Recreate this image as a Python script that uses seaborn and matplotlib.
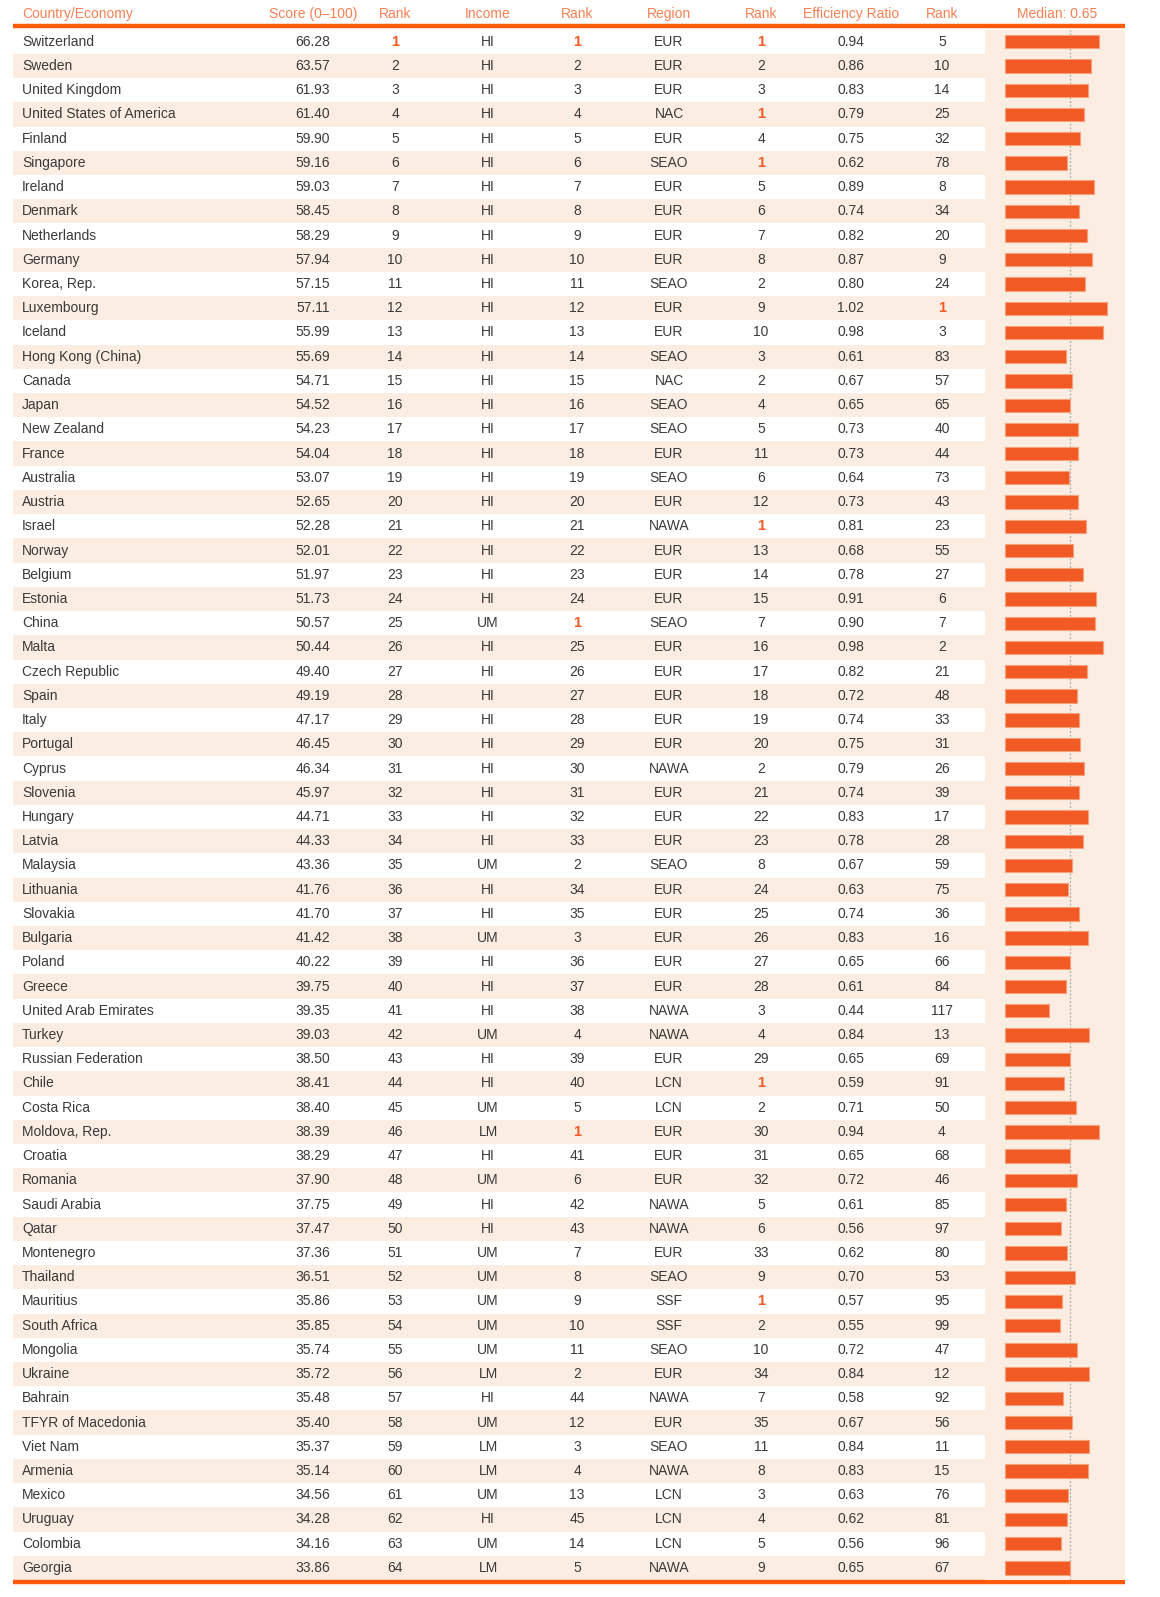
import matplotlib.pyplot as plt
import seaborn as sns
import pandas as pd
from matplotlib import font_manager

countries = [
    "Switzerland", "Sweden", "United Kingdom", "United States of America", "Finland",
    "Singapore", "Ireland", "Denmark", "Netherlands", "Germany", "Korea, Rep.",
    "Luxembourg", "Iceland", "Hong Kong (China)", "Canada", "Japan", "New Zealand",
    "France", "Australia", "Austria", "Israel", "Norway", "Belgium", "Estonia",
    "China", "Malta", "Czech Republic", "Spain", "Italy", "Portugal", "Cyprus",
    "Slovenia", "Hungary", "Latvia", "Malaysia", "Lithuania", "Slovakia", "Bulgaria",
    "Poland", "Greece", "United Arab Emirates", "Turkey", "Russian Federation",
    "Chile", "Costa Rica", "Moldova, Rep.", "Croatia", "Romania", "Saudi Arabia",
    "Qatar", "Montenegro", "Thailand", "Mauritius", "South Africa", "Mongolia",
    "Ukraine", "Bahrain", "TFYR of Macedonia", "Viet Nam", "Armenia", "Mexico",
    "Uruguay", "Colombia", "Georgia",
]
scores = [
    "66.28", "63.57", "61.93", "61.40", "59.90", "59.16", "59.03", "58.45", "58.29",
    "57.94", "57.15", "57.11", "55.99", "55.69", "54.71", "54.52", "54.23", "54.04",
    "53.07", "52.65", "52.28", "52.01", "51.97", "51.73", "50.57", "50.44", "49.40",
    "49.19", "47.17", "46.45", "46.34", "45.97", "44.71", "44.33", "43.36", "41.76",
    "41.70", "41.42", "40.22", "39.75", "39.35", "39.03", "38.50", "38.41", "38.40",
    "38.39", "38.29", "37.90", "37.75", "37.47", "37.36", "36.51", "35.86", "35.85",
    "35.74", "35.72", "35.48", "35.40", "35.37", "35.14", "34.56", "34.28", "34.16",
    "33.86",
]
score_rank = list(range(1, 65))
income = [
    "HI", "HI", "HI", "HI", "HI", "HI", "HI", "HI", "HI", "HI", "HI", "HI", "HI",
    "HI", "HI", "HI", "HI", "HI", "HI", "HI", "HI", "HI", "HI", "HI", "UM", "HI",
    "HI", "HI", "HI", "HI", "HI", "HI", "HI", "HI", "UM", "HI", "HI", "UM", "HI",
    "HI", "HI", "UM", "HI", "HI", "UM", "LM", "HI", "UM", "HI", "HI", "UM", "UM",
    "UM", "UM", "UM", "LM", "HI", "UM", "LM", "LM", "UM", "HI", "UM", "LM",
]
income_rank = [
    1, 2, 3, 4, 5, 6, 7, 8, 9, 10, 11, 12, 13, 14, 15, 16, 17, 18, 19, 20, 21, 22,
    23, 24, 1, 25, 26, 27, 28, 29, 30, 31, 32, 33, 2, 34, 35, 3, 36, 37, 38, 4, 39,
    40, 5, 1, 41, 6, 42, 43, 7, 8, 9, 10, 11, 2, 44, 12, 3, 4, 13, 45, 14, 5,
]
region = [
    "EUR", "EUR", "EUR", "NAC", "EUR", "SEAO", "EUR", "EUR", "EUR", "EUR", "SEAO",
    "EUR", "EUR", "SEAO", "NAC", "SEAO", "SEAO", "EUR", "SEAO", "EUR", "NAWA", "EUR",
    "EUR", "EUR", "SEAO", "EUR", "EUR", "EUR", "EUR", "EUR", "NAWA", "EUR", "EUR",
    "EUR", "SEAO", "EUR", "EUR", "EUR", "EUR", "EUR", "NAWA", "NAWA", "EUR", "LCN",
    "LCN", "EUR", "EUR", "EUR", "NAWA", "NAWA", "EUR", "SEAO", "SSF", "SSF", "SEAO",
    "EUR", "NAWA", "EUR", "SEAO", "NAWA", "LCN", "LCN", "LCN", "NAWA",
]
region_rank = [
    1, 2, 3, 1, 4, 1, 5, 6, 7, 8, 2, 9, 10, 3, 2, 4, 5, 11, 6, 12, 1, 13, 14, 15,
    7, 16, 17, 18, 19, 20, 2, 21, 22, 23, 8, 24, 25, 26, 27, 28, 3, 4, 29, 1, 2,
    30, 31, 32, 5, 6, 33, 9, 1, 2, 10, 34, 7, 35, 11, 8, 3, 4, 5, 9,
]
efficiency = [
    0.94, 0.86, 0.83, 0.79, 0.75, 0.62, 0.89, 0.74, 0.82, 0.87, 0.80, 1.02, 0.98,
    0.61, 0.67, 0.65, 0.73, 0.73, 0.64, 0.73, 0.81, 0.68, 0.78, 0.91, 0.90, 0.98,
    0.82, 0.72, 0.74, 0.75, 0.79, 0.74, 0.83, 0.78, 0.67, 0.63, 0.74, 0.83, 0.65,
    0.61, 0.44, 0.84, 0.65, 0.59, 0.71, 0.94, 0.65, 0.72, 0.61, 0.56, 0.62, 0.70,
    0.57, 0.55, 0.72, 0.84, 0.58, 0.67, 0.84, 0.83, 0.63, 0.62, 0.56, 0.65,
]
eff_rank = [
    5, 10, 14, 25, 32, 78, 8, 34, 20, 9, 24, 1, 3, 83, 57, 65, 40, 44, 73, 43, 23,
    55, 27, 6, 7, 2, 21, 48, 33, 31, 26, 39, 17, 28, 59, 75, 36, 16, 66, 84, 117,
    13, 69, 91, 50, 4, 68, 46, 85, 97, 80, 53, 95, 99, 47, 12, 92, 56, 11, 15, 76,
    81, 96, 67,
]
median_eff = 0.65
headers = ["Country/Economy", "Score (0\u2013100)", "Rank", "Income", "Rank",
           "Region", "Rank", "Efficiency Ratio", "Rank"]

df = pd.DataFrame({"country": countries, "eff": efficiency})

ORANGE = "#F15A24"
LINE = "#FF5A0A"
HEAD = "#F58055"
BEIGE = "#FBEDE1"
TXT = "#3A3A3A"

sns.set_style("white")
installed = {f.name for f in font_manager.fontManager.ttflist}
family = [f for f in ["Liberation Sans Narrow", "Liberation Sans", "DejaVu Sans"]
          if f in installed]
plt.rcParams["font.family"] = family

W, H = 1160, 1597
fig = plt.figure(figsize=(W / 100, H / 100), dpi=100)

# table area in pixels
top_px, bot_px = 29.7, 1580.0
left_px, bar_px, right_px = 13, 985, 1125
y0 = 1 - bot_px / H
hgt = (bot_px - top_px) / H
n = len(countries)

ax = fig.add_axes([0, y0, 1, hgt])
ax.set_xlim(0, W)
ax.set_ylim(n - 0.5, -0.5)
ax.axis("off")

# alternating bands
for i in range(n):
    if i % 2 == 1:
        ax.axhspan(i - 0.5, i + 0.5, xmin=left_px / W, xmax=bar_px / W,
                   color=BEIGE, lw=0, zorder=0)

col_x = [22, 313, 395, 488, 577, 669, 761, 851, 942]
columns = [countries, scores, score_rank, income, income_rank, region,
           region_rank, ["%.2f" % v for v in efficiency], eff_rank]
rank_cols = {2, 4, 6, 8}
fs = 10

for c, (x, vals) in enumerate(zip(col_x, columns)):
    ha = "left" if c == 0 else "center"
    ax.text(x, -1.14, headers[c], ha=ha, va="center", fontsize=fs,
            color=HEAD, clip_on=False)
    for i, v in enumerate(vals):
        if c in rank_cols and v == 1:
            ax.text(x, i, "1", ha=ha, va="center", fontsize=fs + 0.5,
                    color=ORANGE, fontweight="bold")
        else:
            ax.text(x, i, str(v), ha=ha, va="center", fontsize=fs, color=TXT)

ax.text((bar_px + right_px) / 2 + 2, -1.14, "Median: %.2f" % median_eff,
        ha="center", va="center", fontsize=fs, color=HEAD, clip_on=False)

# top and bottom rules
ax.plot([left_px, right_px], [-0.67, -0.67], color=LINE, lw=3.2,
        clip_on=False, solid_capstyle="butt")
ax.plot([left_px, right_px], [n - 0.42, n - 0.42], color=LINE, lw=3.2,
        clip_on=False, solid_capstyle="butt")

# efficiency bars
bax = fig.add_axes([bar_px / W, y0, (right_px - bar_px) / W, hgt])
bax.set_facecolor(BEIGE)
sns.barplot(data=df, x="eff", y="country", orient="h", color=ORANGE,
            width=0.55, saturation=1, edgecolor="#F7A07A", linewidth=0.8,
            ax=bax)
bax.axvline(median_eff, color="#AAAAAA", lw=0.9, ls=(0, (1.5, 1.5)), zorder=0)
bax.set_xlim(-0.2, 1.2)
bax.set_ylim(n - 0.5, -0.5)
bax.set_xlabel("")
bax.set_ylabel("")
bax.set_xticks([])
bax.set_yticks([])
for s in bax.spines.values():
    s.set_visible(False)

fig.savefig("out.png", dpi=100)
